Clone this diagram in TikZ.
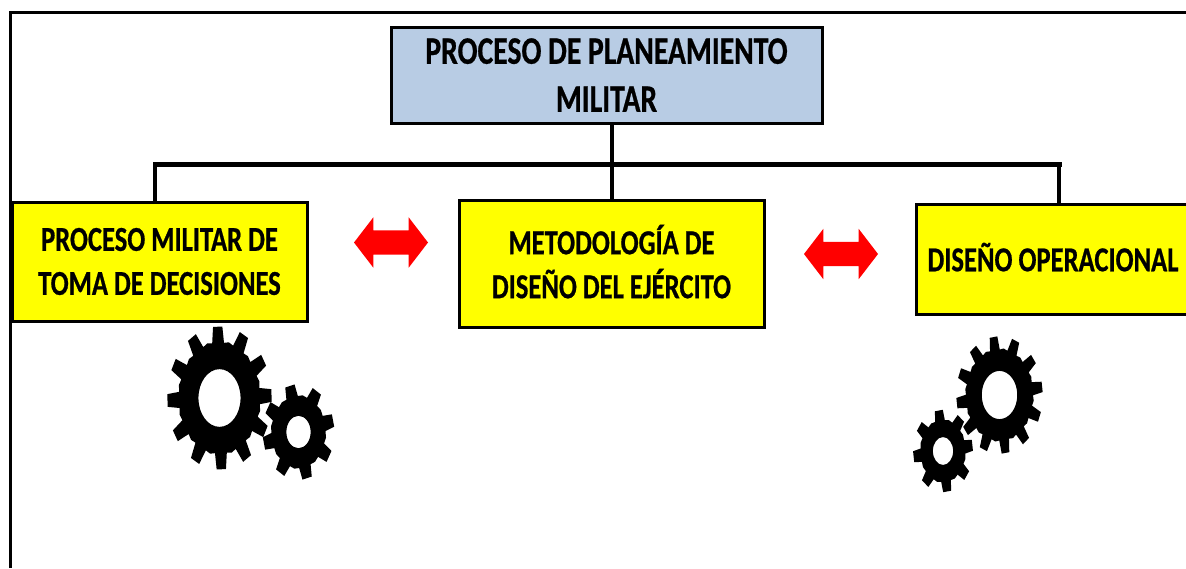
\documentclass[tikz,border=0pt]{standalone}
\usepackage{fontspec}
\usetikzlibrary{shapes.arrows}
\setmainfont[FakeStretch=0.76,BoldFeatures={FakeBold=0.6}]{Carlito}
\definecolor{blueBox}{HTML}{B8CCE4}
\definecolor{yellowBox}{HTML}{FFFF00}
\definecolor{redLink}{HTML}{FF0000}
\tikzstyle{title} = [draw, line width=3pt, fill=blueBox, align=center, font=\fontsize{39}{48}\selectfont\bfseries, minimum width=431pt, minimum height=96pt, inner sep=0pt]
\tikzstyle{block} = [draw, line width=3pt, fill=yellowBox, align=center, font=\fontsize{35}{44}\selectfont\bfseries, inner sep=0pt]
\tikzstyle{link} = [fill=redLink, shape=double arrow, double arrow head extend=13pt, double arrow tip angle=105, double arrow head indent=0pt, minimum height=74pt, inner sep=12pt]
\tikzstyle{bus} = [line width=4pt]
% teeth, phase, tip radius, hole radius
\newcommand{\gearshape}[4]{
	\def\pitch{360/#1}
	\fill[even odd rule] ({#2-0.28*\pitch}:1)
		\foreach \i in {1,...,#1} {
			-- ({#2+(\i-1)*\pitch-0.17*\pitch}:#3) -- ({#2+(\i-1)*\pitch+0.17*\pitch}:#3)
			-- ({#2+(\i-1)*\pitch+0.28*\pitch}:1) -- ({#2+(\i-1)*\pitch+0.5*\pitch}:1.03) -- ({#2+\i*\pitch-0.28*\pitch}:1)
		} -- cycle (0,0) circle (#4);
}
\begin{document}
\begin{tikzpicture}[x=1pt, y=-1pt]
	\useasboundingbox (0,0) rectangle (1186,568);
	\draw [line width=3pt] (10.5,568) -- (10.5,12.5) -- (1186,12.5);

	\coordinate (busleft) at (155,164);
	\coordinate (busright) at (1059,164);

	\node [title] (planeamiento) at (606.5,75) {PROCESO DE PLANEAMIENTO\\MILITAR};
	\node [block, minimum width=305pt, minimum height=127pt, text depth=4pt] (metodologia) at (611.5,263.5) {METODOLOGÍA DE\\DISEÑO DEL EJÉRCITO};
	\node [block, minimum width=295pt, minimum height=119pt] (proceso) at (159.5,261.5) {PROCESO MILITAR DE\\TOMA DE DECISIONES};
	\node [block, minimum width=273pt, minimum height=110pt, text depth=4pt] (diseno) at (1053,259) {DISEÑO OPERACIONAL};
	\node [link] (linkleft) at (391,242.5) {};
	\node [link] (linkright) at (841,254) {};

	\draw [bus, line width=5pt, line cap=rect] (busleft) -- (busright);
	\draw [bus] (planeamiento.south -| metodologia) -- (metodologia.north);
	\draw [bus] (busleft) -- (busleft |- proceso.north);
	\draw [bus] (busright) -- (busright |- diseno.north);

	\begin{scope}[shift={(219.5,398)}, xscale=40.5, yscale=55.5]
		\gearshape{12}{88}{1.29}{0.52}
	\end{scope}
	\begin{scope}[shift={(298.5,432)}, xscale=27, yscale=36]
		\gearshape{8}{76}{1.33}{0.45}
	\end{scope}
	\begin{scope}[shift={(999.5,395)}, xscale=33.5, yscale=45.5]
		\gearshape{12}{82}{1.29}{0.53}
	\end{scope}
	\begin{scope}[shift={(943,451)}, xscale=22.5, yscale=31]
		\gearshape{8}{82}{1.33}{0.45}
	\end{scope}
\end{tikzpicture}
\end{document}
